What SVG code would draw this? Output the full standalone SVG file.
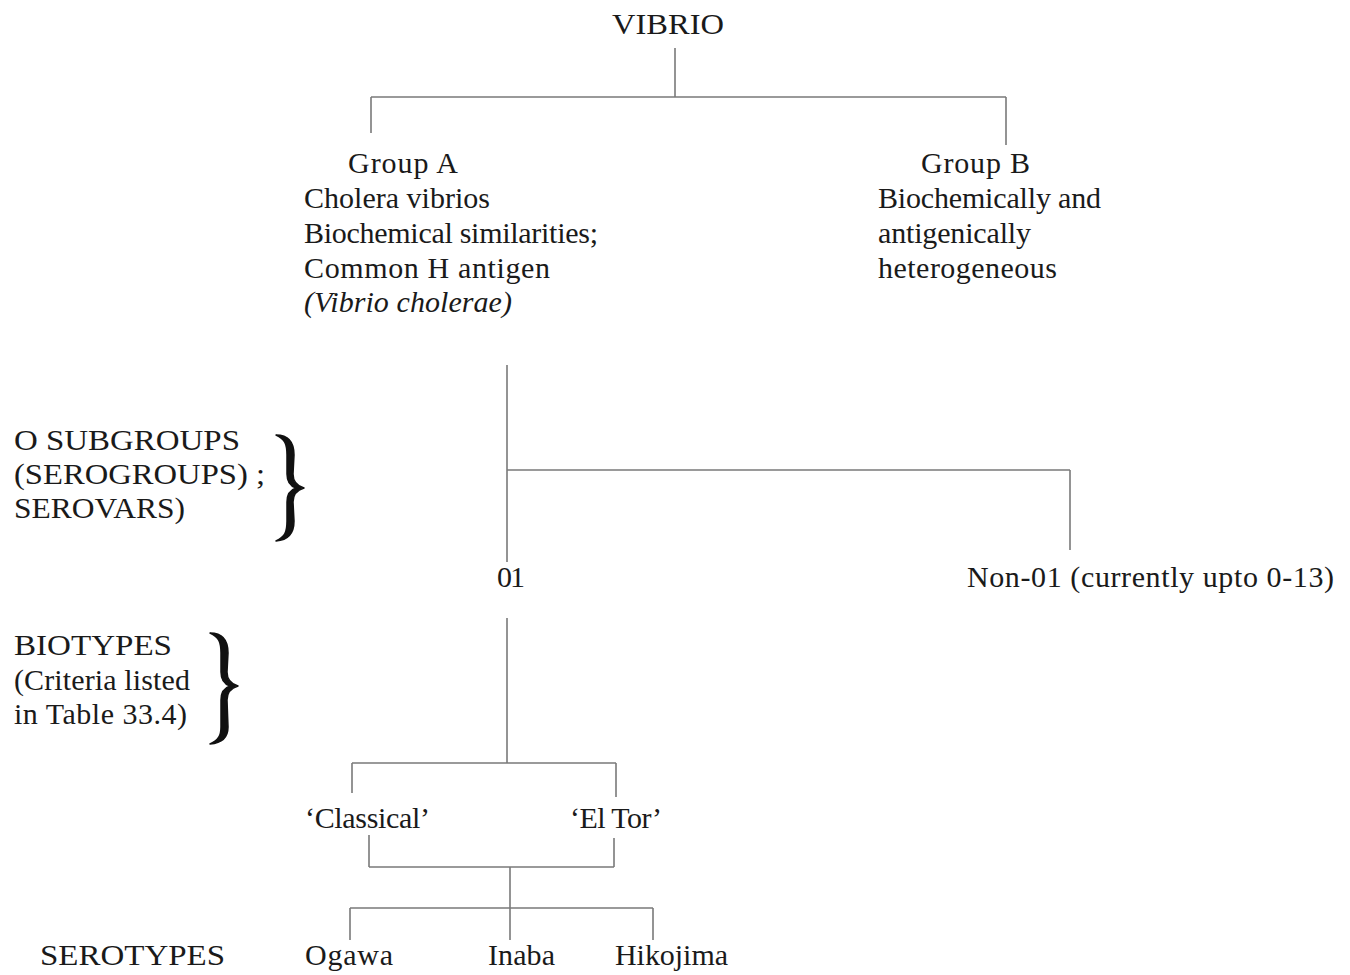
<svg xmlns="http://www.w3.org/2000/svg" width="1350" height="975" viewBox="0 0 1350 975">
<style>
text{font-family:"Liberation Serif","Times New Roman",serif;font-size:30px;fill:#1a1a1a}
.it{font-style:italic}
.ln{stroke:#7a7a7a;stroke-width:1.6;fill:none}
.br{fill:#111;stroke:#111;stroke-width:1.5;stroke-linejoin:round}
</style>
<rect width="1350" height="975" fill="#fff"/>
<g id="connectors">
<path class="ln" d="M675,48V97M371,97H1006M371,97V133M1006,97V145"/>
<path class="ln" d="M507,365V562M507,470H1070M1070,470V550"/>
<path class="ln" d="M507,618V763M352,763H616M352,763V793M616,763V797"/>
<path class="ln" d="M369,835V867M614,838V867M369,867H614M510,867V940M350,908H653M350,908V940M653,908V940"/>
</g>
<g id="vibrio"><text x="612" y="34" textLength="112" lengthAdjust="spacingAndGlyphs">VIBRIO</text></g>
<g id="groupA">
<text x="348" y="173" textLength="110">Group A</text>
<text x="304" y="208" textLength="186">Cholera vibrios</text>
<text x="304" y="243" textLength="294">Biochemical similarities;</text>
<text x="304" y="278" textLength="246">Common H antigen</text>
<text x="304" y="312" class="it" textLength="208">(Vibrio cholerae)</text>
</g>
<g id="groupB">
<text x="921" y="173" textLength="109">Group B</text>
<text x="878" y="208" textLength="223">Biochemically and</text>
<text x="878" y="243" textLength="153">antigenically</text>
<text x="878" y="278" textLength="179">heterogeneous</text>
</g>
<g id="osubgroups">
<text x="14" y="450" textLength="226" lengthAdjust="spacingAndGlyphs">O SUBGROUPS</text>
<text x="14" y="484" textLength="251" lengthAdjust="spacingAndGlyphs">(SEROGROUPS) ;</text>
<text x="14" y="518" textLength="171" lengthAdjust="spacingAndGlyphs">SEROVARS)</text>
<path class="br" d="M276,435C289,435 294,442 294,455L293,474C293,482 297,486 304,488C297,490 293,494 293,502L294,521C294,533 289,540 276,541C285,537 287,532 287,521L287,502C287,494 290,490 296,488C290,486 287,482 287,474L287,455C287,444 285,439 276,435Z"/>
</g>
<g id="o1"><text x="497" y="587" textLength="28">01</text></g>
<g id="non01"><text x="967" y="587" textLength="367">Non-01 (currently upto 0-13)</text></g>
<g id="biotypes">
<text x="14" y="655" textLength="158" lengthAdjust="spacingAndGlyphs">BIOTYPES</text>
<text x="14" y="690" textLength="176">(Criteria listed</text>
<text x="14" y="724" textLength="173">in Table 33.4)</text>
<path class="br" d="M210,633C223,633 228,640 228,653L227,672C227,680 231,684 238,686C231,688 227,692 227,700L228,727C228,737 223,743 210,744C219,740 221,735 221,727L221,700C221,692 224,688 230,686C224,684 221,680 221,672L221,653C221,642 219,637 210,633Z"/>
</g>
<g id="classical"><text x="305" y="828" textLength="125">‘Classical’</text></g>
<g id="eltor"><text x="570" y="828" textLength="92">‘El Tor’</text></g>
<g id="serotypes"><text x="40" y="965" textLength="185" lengthAdjust="spacingAndGlyphs">SEROTYPES</text></g>
<g id="ogawa"><text x="305" y="965" textLength="88">Ogawa</text></g>
<g id="inaba"><text x="488" y="965" textLength="67">Inaba</text></g>
<g id="hikojima"><text x="615" y="965" textLength="113">Hikojima</text></g>
</svg>
